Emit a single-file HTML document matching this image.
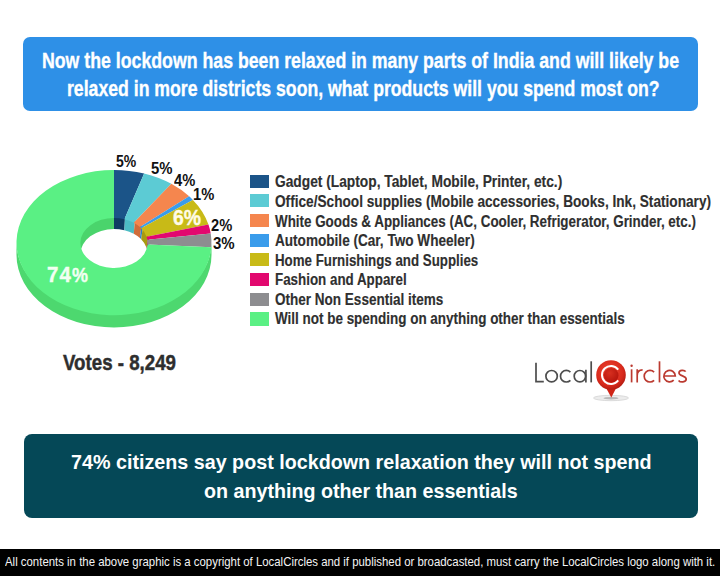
<!DOCTYPE html>
<html><head><meta charset="utf-8">
<style>
html,body{margin:0;padding:0;background:#fff;}
body{width:720px;height:576px;position:relative;overflow:hidden;font-family:"Liberation Sans",sans-serif;}
.abs{position:absolute;white-space:nowrap;}
#tbox{position:absolute;left:23px;top:37px;width:675px;height:74px;background:#2e90e7;border-radius:7px;}
.tl{position:absolute;white-space:nowrap;color:#fff;font-weight:bold;-webkit-text-stroke:0.35px #fff;font-size:22px;line-height:22px;transform-origin:0 0;}
#bbox{position:absolute;left:24px;top:434px;width:674px;height:84px;background:#054857;border-radius:8px;}
.bl{position:absolute;white-space:nowrap;color:#fff;font-weight:bold;font-size:21px;line-height:21px;transform-origin:0 0;}
#foot{position:absolute;left:0;top:549px;width:720px;height:27px;background:#000;}
.ft{position:absolute;white-space:nowrap;color:#f4f4f4;font-size:13.5px;line-height:13.5px;transform-origin:0 0;}
.sq{position:absolute;left:250.3px;width:18.5px;height:13.2px;}
.lg{position:absolute;white-space:nowrap;color:#2f2f2f;font-weight:bold;-webkit-text-stroke:0.15px currentColor;font-size:16px;line-height:16px;transform-origin:0 0;}
.pc{position:absolute;white-space:nowrap;color:#111;font-weight:bold;font-size:16px;line-height:16px;transform-origin:0 0;}
</style></head><body>
<div id="tbox"></div>
<div class="tl" id="t1" style="left:41.97px;top:49.8px;transform:scaleX(0.8054);">Now the lockdown has been relaxed in many parts of India and will likely be</div>
<div class="tl" id="t2" style="left:67.3px;top:77.5px;transform:scaleX(0.8026);">relaxed in more districts soon, what products will you spend most on?</div>

<svg class="abs" style="left:0;top:0" width="720" height="576" viewBox="0 0 720 576">
<path d="M16.5,242.6 L16.5,254.9 A97.5,72.6 0 0 0 211.5,254.9 L211.5,242.6 A97.5,70.1 0 0 1 16.5,242.6 Z" fill="#4dd86f"/>
<path d="M114.00,216.00 A35.6,27 0 0 1 125.00,217.32 L124.38,230.22 A33.6,25 0 0 0 114.00,229.00 Z" fill="#0f3b63"/>
<path d="M125.00,217.32 A35.6,27 0 0 1 134.93,221.16 L133.75,233.77 A33.6,25 0 0 0 124.38,230.22 Z" fill="#4cbcc4"/>
<path d="M134.93,221.16 A35.6,27 0 0 1 141.43,225.79 L139.89,238.06 A33.6,25 0 0 0 133.75,233.77 Z" fill="#d06c3a"/>
<path d="M141.43,225.79 A35.6,27 0 0 1 142.80,227.13 L141.18,239.31 A33.6,25 0 0 0 139.89,238.06 Z" fill="#2a7fc4"/>
<path d="M142.80,227.13 A35.6,27 0 0 1 148.48,236.29 L146.54,247.78 A33.6,25 0 0 0 141.18,239.31 Z" fill="#a89a10"/>
<path d="M148.48,236.29 A35.6,27 0 0 1 149.32,239.62 L147.34,250.87 A33.6,25 0 0 0 146.54,247.78 Z" fill="#b8055a"/>
<path d="M149.32,239.62 A35.6,27 0 0 1 149.60,243.00 L147.60,254.00 A33.6,25 0 0 0 147.34,250.87 Z" fill="#707073"/>
<path d="M78.40,243.00 A35.6,27 0 0 1 114.00,216.00 L114.00,229.00 A33.6,25 0 0 0 80.40,254.00 Z" fill="#4ad46c"/>
<path d="M114.00,170.00 A97.5,72.6 0 0 1 144.13,173.55 L124.38,219.22 A33.6,25 0 0 0 114.00,218.00 Z" fill="#1b5488"/>
<path d="M144.13,173.55 A97.5,72.6 0 0 1 171.31,183.87 L133.75,222.77 A33.6,25 0 0 0 124.38,219.22 Z" fill="#5ccbd4"/>
<path d="M171.31,183.87 A97.5,72.6 0 0 1 189.13,196.32 L139.89,227.06 A33.6,25 0 0 0 133.75,222.77 Z" fill="#f5864e"/>
<path d="M189.13,196.32 A97.5,72.6 0 0 1 192.88,199.93 L141.18,228.31 A33.6,25 0 0 0 139.89,227.06 Z" fill="#3a9ceb"/>
<path d="M192.88,199.93 A97.5,72.6 0 0 1 208.44,224.55 L146.54,236.78 A33.6,25 0 0 0 141.18,228.31 Z" fill="#c8ba17"/>
<path d="M208.44,224.55 A97.5,72.6 0 0 1 210.73,233.50 L147.34,239.87 A33.6,25 0 0 0 146.54,236.78 Z" fill="#e2086f"/>
<path d="M210.73,233.50 A97.5,72.6 0 0 1 211.31,247.16 L147.53,244.57 A33.6,25 0 0 0 147.34,239.87 Z" fill="#8d8d90"/>
<path d="M211.31,247.16 A97.5,72.6 0 1 1 114.00,170.00 L114.00,218.00 A33.6,25 0 1 0 147.53,244.57 Z" fill="#5af084"/>
</svg>
<div class="pc" id="p1" style="left:116.25px;top:154.05px;color:#111;font-size:16px;line-height:16px;transform:scaleX(0.8739);">5%</div>
<div class="pc" id="p2" style="left:150.65px;top:160.80px;color:#111;font-size:16px;line-height:16px;transform:scaleX(0.9273);">5%</div>
<div class="pc" id="p3" style="left:174.42px;top:173.40px;color:#111;font-size:16px;line-height:16px;transform:scaleX(0.9174);">4%</div>
<div class="pc" id="p4" style="left:192.70px;top:186.55px;color:#111;font-size:16px;line-height:16px;transform:scaleX(0.9182);">1%</div>
<div class="pc" id="p5" style="left:172.91px;top:207.55px;color:#fffbe6;-webkit-text-stroke:0.4px #fffbe6;font-size:21.5px;line-height:21.5px;transform:scaleX(0.9000);">6%</div>
<div class="pc" id="p6" style="left:211.42px;top:218.45px;color:#111;font-size:16px;line-height:16px;transform:scaleX(0.9174);">2%</div>
<div class="pc" id="p7" style="left:212.64px;top:235.85px;color:#111;font-size:16px;line-height:16px;transform:scaleX(0.9364);">3%</div>
<div class="pc" id="p8" style="left:46.90px;top:264.00px;color:#f2fff2;-webkit-text-stroke:0.4px #f2fff2;letter-spacing:1.2px;font-size:22.5px;line-height:22.5px;transform:scaleX(0.9093);">74<span style="font-size:0.88em">%</span></div>

<div class="sq" style="top:174.50px;background:#1b5488"></div>
<div class="sq" style="top:194.19px;background:#5ccbd4"></div>
<div class="sq" style="top:213.88px;background:#f5864e"></div>
<div class="sq" style="top:233.57px;background:#3a9ceb"></div>
<div class="sq" style="top:253.26px;background:#c8ba17"></div>
<div class="sq" style="top:272.95px;background:#e2086f"></div>
<div class="sq" style="top:292.64px;background:#8d8d90"></div>
<div class="sq" style="top:312.33px;background:#5af084"></div>

<div class="lg" id="l1" style="left:275.4px;top:174.46px;transform:scaleX(0.8601);">Gadget (Laptop, Tablet, Mobile, Printer, etc.)</div>
<div class="lg" id="l2" style="left:275.4px;top:194.03px;transform:scaleX(0.8529);">Office/School supplies (Mobile accessories, Books, Ink, Stationary)</div>
<div class="lg" id="l3" style="left:275.4px;top:213.60px;transform:scaleX(0.8374);">White Goods &amp; Appliances (AC, Cooler, Refrigerator, Grinder, etc.)</div>
<div class="lg" id="l4" style="left:275.4px;top:233.17px;transform:scaleX(0.8487);">Automobile (Car, Two Wheeler)</div>
<div class="lg" id="l5" style="left:275.4px;top:252.74px;transform:scaleX(0.8311);">Home Furnishings and Supplies</div>
<div class="lg" id="l6" style="left:275.4px;top:272.31px;transform:scaleX(0.8353);">Fashion and Apparel</div>
<div class="lg" id="l7" style="left:275.4px;top:291.88px;transform:scaleX(0.8449);">Other Non Essential items</div>
<div class="lg" id="l8" style="left:275.4px;top:311.45px;transform:scaleX(0.8409);">Will not be spending on anything other than essentials</div>

<div class="lg" id="votes" style="left:62.57px;top:352.45px;font-size:21.8px;line-height:21.8px;color:#2e2e2e;-webkit-text-stroke:0.45px #2e2e2e;transform:scaleX(0.858);">Votes - 8,249</div>

<div id="bbox"></div>
<div class="bl" id="b1" style="left:70.96px;top:451.0px;transform:scaleX(0.9388);">74% citizens say post lockdown relaxation they will not spend</div>
<div class="bl" id="b2" style="left:203.96px;top:479.7px;transform:scaleX(0.9365);">on anything other than essentials</div>

<div id="foot"></div>
<div class="ft" id="f1" style="left:5.48px;top:555.1722500000001px;transform:scaleX(0.8443);">All contents in the above graphic is a copyright of LocalCircles and if published or broadcasted, must carry the LocalCircles logo along with it.</div>
<svg class="abs" style="left:0;top:0" width="720" height="576" viewBox="0 0 720 576">
<g fill="none" stroke="#4d4d4d" stroke-width="1.7" stroke-linecap="butt">
<path d="M536,362.7 V381.6 H543.8"/>
<circle cx="551.6" cy="376.2" r="5.7"/>
<path d="M570.4,372.1 A5.8,5.8 0 1 0 570.4,380.3"/>
<circle cx="579.9" cy="376.2" r="5.7"/>
<path d="M585.9,369.8 V382.4"/>
<path d="M591.2,361.3 V382.4"/>
</g>
<g fill="none" stroke="#bb3a30" stroke-width="1.7">
<path d="M631.6,369.3 V382.4"/>
<path d="M637.2,369.3 V382.4 M637.2,375.5 C637.2,371.5 639.5,369.9 642.6,369.9"/>
<path d="M654.1,372.1 A5.8,5.8 0 1 0 654.1,380.3"/>
<path d="M659.5,361.3 V382.4"/>
<path d="M663.9,376 H675.3 A5.7,5.7 0 1 0 673.7,380.1"/>
<path d="M685.6,371.6 C684.6,369.9 679.0,369.6 679.0,372.9 C679.0,376.1 686.2,375.6 686.2,379.1 C686.2,382.6 680.2,382.6 678.6,380.4"/>
</g>
<circle cx="631.6" cy="365.7" r="1.2" fill="#bb3a30"/>
<defs><radialGradient id="pg" cx="0.45" cy="0.4" r="0.6"><stop offset="0" stop-color="#ee4a35"/><stop offset="0.75" stop-color="#d92a1c"/><stop offset="1" stop-color="#b51c12"/></radialGradient>
<radialGradient id="dg" cx="0.4" cy="0.35" r="0.7"><stop offset="0" stop-color="#d83020"/><stop offset="1" stop-color="#b4140c"/></radialGradient></defs>
<ellipse cx="611" cy="398" rx="17.5" ry="2.7" fill="#ececec" stroke="#d0d0d0" stroke-width="0.7"/>
<ellipse cx="611" cy="398.2" rx="7.5" ry="1.3" fill="#b8b8b8"/>
<path d="M605,386 L611.3,397.6 L617.2,386 Z" fill="#cf2416"/>
<circle cx="611" cy="375" r="14.8" fill="url(#pg)"/>
<path d="M618.2,369.6 A9.0,9.0 0 1 0 618.2,380.4" fill="none" stroke="#fff" stroke-width="2.0"/>
<circle cx="611.2" cy="375.3" r="7.3" fill="url(#dg)"/>
</svg>
</body></html>
